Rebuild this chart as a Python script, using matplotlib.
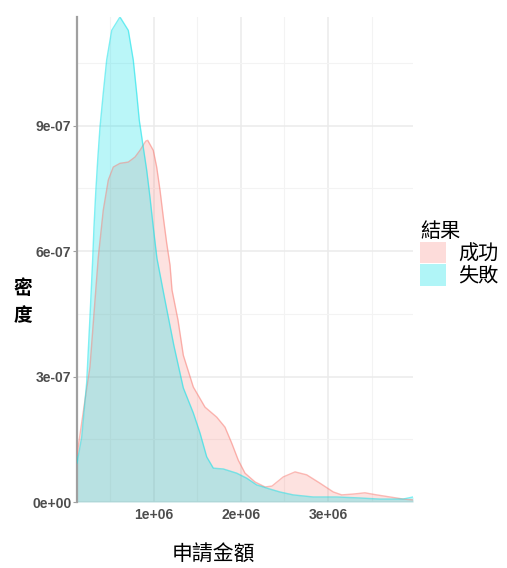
import numpy as np
import matplotlib
matplotlib.use("Agg")
import matplotlib.pyplot as plt
from matplotlib.patches import Patch
from matplotlib.ticker import MultipleLocator

plt.rcParams['font.family'] = ['Noto Sans CJK TC', 'DejaVu Sans']

# %% Daten (x in 1e6, Dichte in 1e-7)

gruppen = ["成功", "失敗"]
farben = ["#F8766D", "#00E0E8"]
alphas = [0.21, 0.27]

x_erfolg = [0.115, 0.207, 0.264, 0.322, 0.360, 0.417, 0.475, 0.532, 0.609, 0.705,
            0.782, 0.839, 0.905, 0.928, 0.992, 1.031, 1.069, 1.107, 1.146, 1.184,
            1.207, 1.276, 1.337, 1.452, 1.586, 1.721, 1.816, 1.893, 1.969, 2.046,
            2.161, 2.276, 2.356, 2.486, 2.621, 2.755, 2.908, 3.061, 3.157, 3.291,
            3.425, 3.560, 3.713, 3.866, 3.977]
d_erfolg = [1.12, 2.44, 3.23, 4.83, 5.86, 6.98, 7.70, 8.01, 8.10, 8.13,
            8.25, 8.41, 8.63, 8.65, 8.41, 8.01, 7.46, 6.81, 6.19, 5.67,
            5.07, 4.35, 3.51, 2.75, 2.27, 2.03, 1.79, 1.41, 1.00, 0.69,
            0.48, 0.36, 0.38, 0.60, 0.72, 0.65, 0.45, 0.24, 0.17, 0.19,
            0.22, 0.17, 0.12, 0.07, 0.05]

x_fehl = [0.115, 0.169, 0.226, 0.264, 0.295, 0.310, 0.330, 0.353, 0.379, 0.417,
          0.456, 0.514, 0.609, 0.705, 0.762, 0.801, 0.831, 0.870, 0.916, 0.954,
          0.992, 1.034, 1.126, 1.230, 1.337, 1.452, 1.529, 1.606, 1.682, 1.797,
          1.951, 2.066, 2.180, 2.333, 2.448, 2.601, 2.831, 3.100, 3.330, 3.598,
          3.862, 3.977]
d_fehl = [0.93, 1.55, 2.85, 4.42, 5.79, 6.57, 7.39, 8.18, 8.96, 9.78,
          10.57, 11.28, 11.60, 11.28, 10.57, 9.78, 9.13, 8.58, 7.94, 7.29,
          6.57, 5.83, 4.83, 3.73, 2.73, 2.13, 1.65, 1.08, 0.81, 0.79,
          0.69, 0.57, 0.41, 0.31, 0.24, 0.17, 0.12, 0.12, 0.10, 0.07,
          0.07, 0.12]

x_ticks = [1e6, 2e6, 3e6]
x_ticklabels = ["1e+06", "2e+06", "3e+06"]
y_ticks = [0, 3e-7, 6e-7, 9e-7]
y_ticklabels = ["0e+00", "3e-07", "6e-07", "9e-07"]

# %% Plot

fig = plt.figure(figsize=(5.07, 5.68), dpi=100)
ax = fig.add_axes([77 / 507, 1 - 502 / 568, 336 / 507, 485 / 568])

serien = [(x_erfolg, d_erfolg), (x_fehl, d_fehl)]
for (xs, ds), farbe, a in zip(serien, farben, alphas):
    xs = np.array(xs) * 1e6
    ds = np.array(ds) * 1e-7
    ax.fill_between(xs, 0, ds, color=farbe, alpha=a, lw=0, zorder=2)
    ax.plot(xs, ds, color=farbe, alpha=0.5, lw=1.0, zorder=3,
            solid_joinstyle="round")

ax.set_xlim(0.115e6, 3.977e6)
ax.set_ylim(0, 1.16e-6)

ax.set_xticks(x_ticks)
ax.set_xticklabels(x_ticklabels)
ax.set_yticks(y_ticks)
ax.set_yticklabels(y_ticklabels)
ax.xaxis.set_minor_locator(MultipleLocator(0.5e6))
ax.yaxis.set_minor_locator(MultipleLocator(1.5e-7))

ax.grid(True, which="major", color="#EBEBEB", lw=1.1, zorder=0)
ax.grid(True, which="minor", color="#F3F3F3", lw=0.8, zorder=0)
ax.set_axisbelow(True)

for s in ["top", "right", "bottom"]:
    ax.spines[s].set_visible(False)
ax.spines["left"].set_color("#A0A0A0")
ax.spines["left"].set_linewidth(1.6)

ax.tick_params(axis="y", which="major", length=3, color="#A0A0A0",
               labelcolor="#4D4D4D", pad=1)
ax.tick_params(axis="x", which="major", length=0, labelcolor="#4D4D4D", pad=4)
ax.tick_params(which="minor", length=0)
for lab in ax.get_xticklabels() + ax.get_yticklabels():
    lab.set_fontweight("bold")
    lab.set_fontfamily("Liberation Sans")
    lab.set_fontsize(10)

fig.text(213 / 507, 1 - 555 / 568, "申請金額", ha="center", va="center",
         fontsize=15, color="black")
fig.text(23 / 507, 1 - 302 / 568, "密\n度", ha="center", va="center",
         fontsize=13.5, fontweight="bold", linespacing=1.6, color="black")

handles = [Patch(facecolor=f, alpha=a + 0.04, edgecolor="none")
           for f, a in zip(farben, alphas)]
leg = fig.legend(handles, gruppen, title="結果", loc="upper left",
                 bbox_to_anchor=(412 / 507, 1 - 213 / 568), frameon=False,
                 fontsize=14.5, title_fontsize=14.5, handlelength=1.3,
                 handleheight=1.25, labelspacing=0.0, handletextpad=0.6,
                 borderaxespad=0)
leg._legend_box.align = "left"

fig.savefig("out.png", dpi=100)
